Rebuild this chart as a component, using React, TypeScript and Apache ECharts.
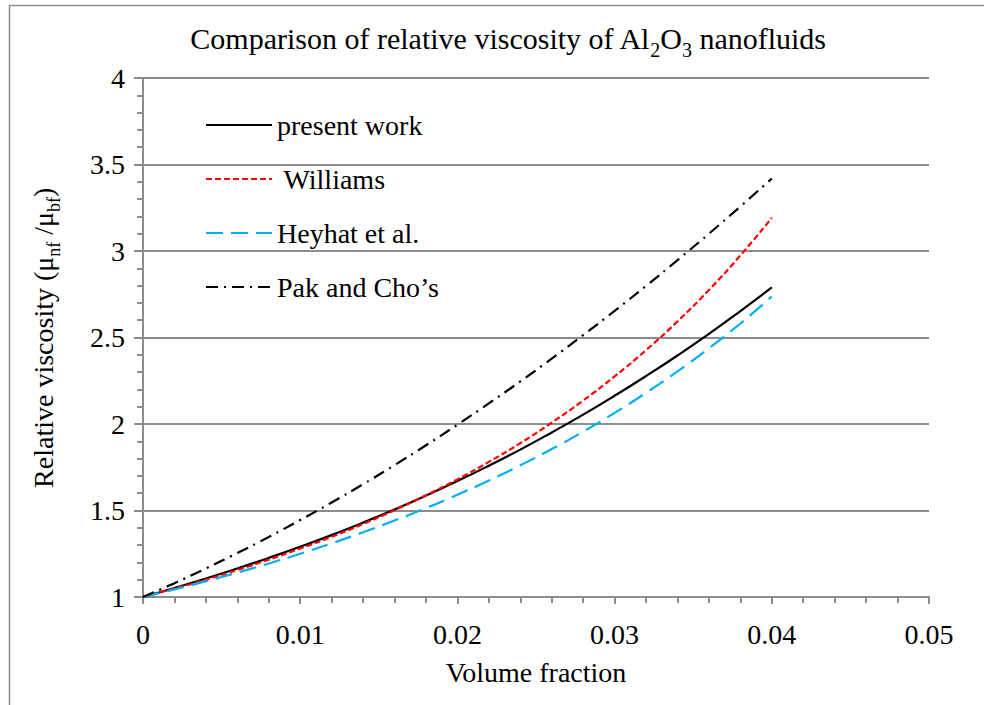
import React, { useEffect, useRef } from "react";
import * as echarts from "echarts";

const volumeFraction = [0, 0.002, 0.004, 0.006, 0.008, 0.01, 0.012, 0.014, 0.016, 0.018, 0.02, 0.022, 0.024, 0.026, 0.028, 0.03, 0.032, 0.034, 0.036, 0.038, 0.04];
const presentWork = [1, 1.052, 1.107, 1.165, 1.226, 1.29, 1.358, 1.43, 1.506, 1.586, 1.67, 1.759, 1.852, 1.951, 2.054, 2.163, 2.277, 2.396, 2.521, 2.653, 2.79];
const williams = [1, 1.049, 1.1, 1.156, 1.216, 1.28, 1.348, 1.422, 1.502, 1.588, 1.68, 1.781, 1.889, 2.008, 2.136, 2.275, 2.427, 2.593, 2.775, 2.974, 3.192];
const heyhat = [1, 1.044, 1.091, 1.141, 1.194, 1.25, 1.31, 1.374, 1.442, 1.514, 1.591, 1.673, 1.761, 1.855, 1.956, 2.064, 2.18, 2.304, 2.438, 2.581, 2.737];
const pakCho = [1, 1.08, 1.165, 1.254, 1.347, 1.445, 1.546, 1.652, 1.762, 1.877, 1.996, 2.119, 2.246, 2.378, 2.514, 2.654, 2.798, 2.947, 3.1, 3.257, 3.419];
const seriesNames = ["present work", " Williams", "Heyhat et al.", "Pak and Cho\u2019s"];
const xTicks = [0, 0.01, 0.02, 0.03, 0.04, 0.05];
const yTicks = [1, 1.5, 2, 2.5, 3, 3.5, 4];

const FONT = "Liberation Serif";
const FS = 28;

export default function App() {
  const ref = useRef<HTMLDivElement>(null);
  useEffect(() => {
    if (!ref.current) return;
    const chart = echarts.init(ref.current, undefined, { renderer: "svg" });
    const pair = (ys: number[]) => volumeFraction.map((x, i) => [x, ys[i]]);
    const mk = (name: string, ys: number[], color: string, type: any, width = 2.2) => ({
      name,
      type: "line",
      data: pair(ys),
      smooth: true,
      symbol: "none",
      showSymbol: false,
      lineStyle: { color, width, type },
      itemStyle: { color },
    });
    const base = { fontFamily: FONT, fontSize: FS, color: "#000", fontWeight: "normal" };
    const plain = { t: { ...base, lineHeight: 30 } };
    // rich styles with a lowered subscript: main text sits at the top of a taller line,
    // subscripts sit at the bottom of it.
    const richSub = {
      t: { ...base, lineHeight: 30, verticalAlign: "top" },
      sub: { fontFamily: FONT, fontSize: 18, lineHeight: 18, verticalAlign: "bottom", color: "#000" },
      s: { fontFamily: FONT, fontSize: 2, lineHeight: 34, color: "#000" },
    };
    const richTitle = {
      t: { ...base, fontSize: 30, lineHeight: 32, verticalAlign: "top" },
      sub: { fontFamily: FONT, fontSize: 20, lineHeight: 20, verticalAlign: "bottom", color: "#000" },
      s: { fontFamily: FONT, fontSize: 2, lineHeight: 37, color: "#000" },
    };
    chart.setOption({
      animation: false,
      backgroundColor: "#ffffff",
      textStyle: { fontFamily: FONT },
      graphic: [
        {
          type: "rect",
          shape: { x: 9.5, y: 5.5, width: 1200, height: 900 },
          style: { fill: "none", stroke: "#8c8c8c", lineWidth: 1.5 },
          silent: true,
        },
      ],
      title: {
        text: "{t|Comparison of relative viscosity of Al}{sub|2}{t|O}{sub|3}{t| nanofluids}{s| }",
        left: 503,
        textAlign: "center",
        top: 18,
        textStyle: { ...base, fontSize: 30, lineHeight: 32, rich: richTitle },
      },
      legend: {
        orient: "vertical",
        left: 200,
        top: 106,
        itemWidth: 66,
        itemHeight: 14,
        itemGap: 26,
        itemStyle: { opacity: 0 },
        formatter: (n: string) => `{t|${n}}`,
        textStyle: { ...base, rich: plain },
        data: seriesNames,
      },
      grid: { left: 143, right: 55, top: 78, bottom: 108 },
      xAxis: {
        type: "value",
        min: 0,
        max: 0.05,
        interval: 0.01,
        name: "{t|Volume fraction}",
        nameLocation: "middle",
        nameGap: 60,
        nameTextStyle: { ...base, rich: plain },
        axisLine: { show: true, lineStyle: { color: "#8c8c8c", width: 2 } },
        axisTick: { show: true, length: 7, inside: false, lineStyle: { color: "#8c8c8c", width: 2 } },
        minorTick: { show: true, splitNumber: 5, length: 6, lineStyle: { color: "#8c8c8c", width: 2 } },
        axisLabel: {
          ...base,
          margin: 22,
          rich: plain,
          formatter: (v: number) => {
            const t = xTicks.find((k) => Math.abs(k - v) < 1e-9);
            return t === undefined ? "" : `{t|${t}}`;
          },
        },
        splitLine: { show: false },
      },
      yAxis: {
        type: "value",
        min: 1,
        max: 4,
        interval: 0.5,
        name: "{t|Relative viscosity (\u03bc}{sub|nf}{t| /\u03bc}{sub|bf}{t|)}{s| }",
        nameLocation: "middle",
        nameGap: 80,
        nameRotate: 90,
        nameTextStyle: { ...base, lineHeight: 30, rich: richSub },
        axisLine: { show: true, lineStyle: { color: "#8c8c8c", width: 2 } },
        axisTick: { show: true, length: 9, lineStyle: { color: "#8c8c8c", width: 2 } },
        minorTick: { show: true, splitNumber: 5, length: 6, lineStyle: { color: "#8c8c8c", width: 2 } },
        axisLabel: {
          ...base,
          margin: 18,
          rich: plain,
          formatter: (v: number) => {
            const t = yTicks.find((k) => Math.abs(k - v) < 1e-9);
            return t === undefined ? "" : `{t|${t}}`;
          },
        },
        splitLine: { show: true, lineStyle: { color: "#8c8c8c", width: 2 } },
      },
      series: [
        mk(seriesNames[0], presentWork, "#000000", "solid"),
        mk(seriesNames[1], williams, "#ff0000", [6, 3]),
        mk(seriesNames[2], heyhat, "#00b0f0", [17, 8]),
        mk(seriesNames[3], pakCho, "#000000", [12, 6, 2, 6]),
      ],
    });
    return () => chart.dispose();
  }, []);
  return <div ref={ref} style={{ position: "fixed", left: 0, top: 0, width: 984, height: 705 }} />;
}
